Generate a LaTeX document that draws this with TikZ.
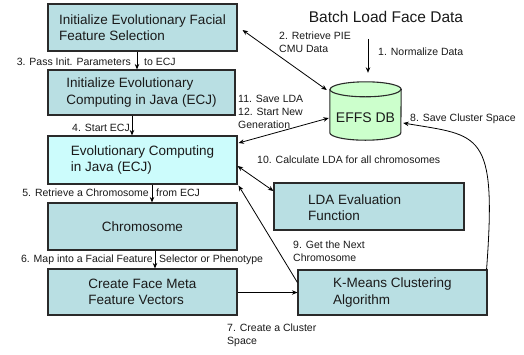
\documentclass[tikz,border=0pt]{standalone}
\usepackage{fontspec}
\setmainfont{Liberation Sans}
\usetikzlibrary{arrows.meta}
\definecolor{boxfill}{HTML}{B9DFE3}
\definecolor{ecjfill}{HTML}{CCFCFC}
\definecolor{dbfill}{HTML}{CCFFCC}
\definecolor{edge}{HTML}{2A2A2A}
\definecolor{txt}{HTML}{1A1A1A}
\begin{document}
\begin{tikzpicture}[x=1pt,y=-1pt,
  box/.style={draw=edge, line width=1.1pt, fill=boxfill, inner sep=0pt, align=left,
    font=\fontsize{13.5}{16.5}\selectfont, text=txt},
  boxtext/.style={inner sep=0pt, align=left, font=\fontsize{13.5}{16.5}\selectfont, text=txt},
  lbl/.style={inner sep=0pt, align=left, font=\fontsize{10.5}{13}\selectfont, text=txt},
  arr/.style={-{Stealth[length=5.5pt,width=4.5pt]}, line width=0.8pt, draw=black},
  darr/.style={{Stealth[length=5.5pt,width=4.5pt]}-{Stealth[length=5.5pt,width=4.5pt]}, line width=0.8pt, draw=black}
]
\useasboundingbox[fill=white] (0,0) rectangle (524,354);

% boxes
\node[box, minimum width=189pt, minimum height=47pt] (b1) at (142.5,27.5)
  {Initialize Evolutionary Facial\\Feature Selection};
\node[box, minimum width=187pt, minimum height=45pt] (b2) at (141.5,92.5)
  {Initialize Evolutionary\\Computing in Java (ECJ)};
\node[box, fill=ecjfill, minimum width=189pt, minimum height=48pt] (b3) at (142.5,160)
  {Evolutionary Computing\\in Java (ECJ)};
\node[box, minimum width=189pt, minimum height=47pt] (b4) at (142.5,226.5) {Chromosome};
\node[box, minimum width=189pt, minimum height=46pt] (b5) at (142.5,292)
  {Create Face Meta\\Feature Vectors};
\node[box, minimum width=190pt, minimum height=47pt] (lda) at (369,206.5) {};
\node[boxtext, anchor=west] (ldat) at (308,207.5) {LDA Evaluation\\Function};
\node[box, minimum width=189pt, minimum height=45pt] (km) at (392.5,292.5)
  {K-Means Clustering\\Algorithm};

% database cylinder
\node[minimum width=71pt, minimum height=58pt, inner sep=0pt] (db) at (365.5,111) {};
\path[fill=dbfill, draw=edge, line width=1.1pt]
  ([yshift=-7.5pt]db.north west) -- ([yshift=7.5pt]db.south west)
  arc[start angle=180, end angle=0, x radius=35.5, y radius=7.5]
  -- ([yshift=-7.5pt]db.north east)
  arc[start angle=0, end angle=-180, x radius=35.5, y radius=7.5] -- cycle;
\draw[edge, line width=1.1pt] ([yshift=-7.5pt]db.north west)
  arc[start angle=180, end angle=0, x radius=35.5, y radius=7.5];
\node[inner sep=0pt, font=\fontsize{14}{16}\selectfont, text=txt] (dbt) at (365.5,118) {EFFS DB};

% title
\node[inner sep=0pt, font=\fontsize{15.5}{18}\selectfont, text=txt] (bl) at (386,17) {Batch Load Face Data};

% connectors
\draw[arr] ([shift={(-18,16)}]bl.south) -- ([shift={(2.5,-9)}]db.north);
\node[lbl, anchor=west] (l1) at (378,52) {1. Normalize Data};

\draw[darr] ([shift={(5,2.5)}]b1.east) -- ([shift={(-3,-21)}]db.west);
\node[lbl, anchor=north west] (l2) at (279,32) {2. Retrieve PIE\\CMU Data};

\draw[arr] ([xshift=-5.5pt]b1.south) -- ([xshift=-5.5pt]b1.south |- b2.north);
\node[lbl, anchor=east] (l3a) at (131,62) {3. Pass Init. Parameters};
\node[lbl, anchor=west] (l3b) at (144,62) {to ECJ};

\draw[arr] ([xshift=-9.5pt]b2.south) -- ([xshift=-9.5pt]b2.south |- b3.north);
\node[lbl, anchor=west] (l4) at (72,128) {4. Start ECJ};

\draw[arr] ([xshift=9.5pt]b3.south) -- ([xshift=9.5pt]b3.south |- b4.north);
\node[lbl, anchor=east] (l5a) at (149,193) {5. Retrieve a Chromosome};
\node[lbl, anchor=west] (l5b) at (156,193) {from ECJ};

\draw[arr] ([xshift=12.5pt]b4.south) -- ([xshift=12.5pt]b4.south |- b5.north);
\node[lbl, anchor=east] (l6a) at (153,260) {6. Map into a Facial Feature};
\node[lbl, anchor=west] (l6b) at (159,260) {Selector or Phenotype};

\draw[arr] (b5.east |- km.west) -- (km.west);
\node[lbl, anchor=north west] (l7) at (227,324) {7. Create a Cluster\\Space};

\draw[arr] ([xshift=-1pt]km.north east) .. controls (497,130) and (480,136) .. ([shift={(2,12)}]db.east);
\node[lbl, anchor=west] (l8) at (410,119) {8. Save Cluster Space};

\draw[arr] ([yshift=10pt]km.west) -- ([shift={(1,1)}]b3.south east);
\node[lbl, anchor=north west] (l9) at (293,241) {9. Get the Next\\Chromosome};

\draw[darr] ([shift={(0,6)}]b3.east) -- ([yshift=15.5pt]lda.west);
\node[lbl, anchor=west] (l10) at (257,160) {10. Calculate LDA for all chromosomes};

\draw[darr] ([shift={(-1,7)}]db.west) -- ([shift={(1,-17)}]b3.east);
\node[lbl, anchor=north west] (l11) at (238,95) {11. Save LDA\\12. Start New\\Generation};
\end{tikzpicture}
\end{document}
